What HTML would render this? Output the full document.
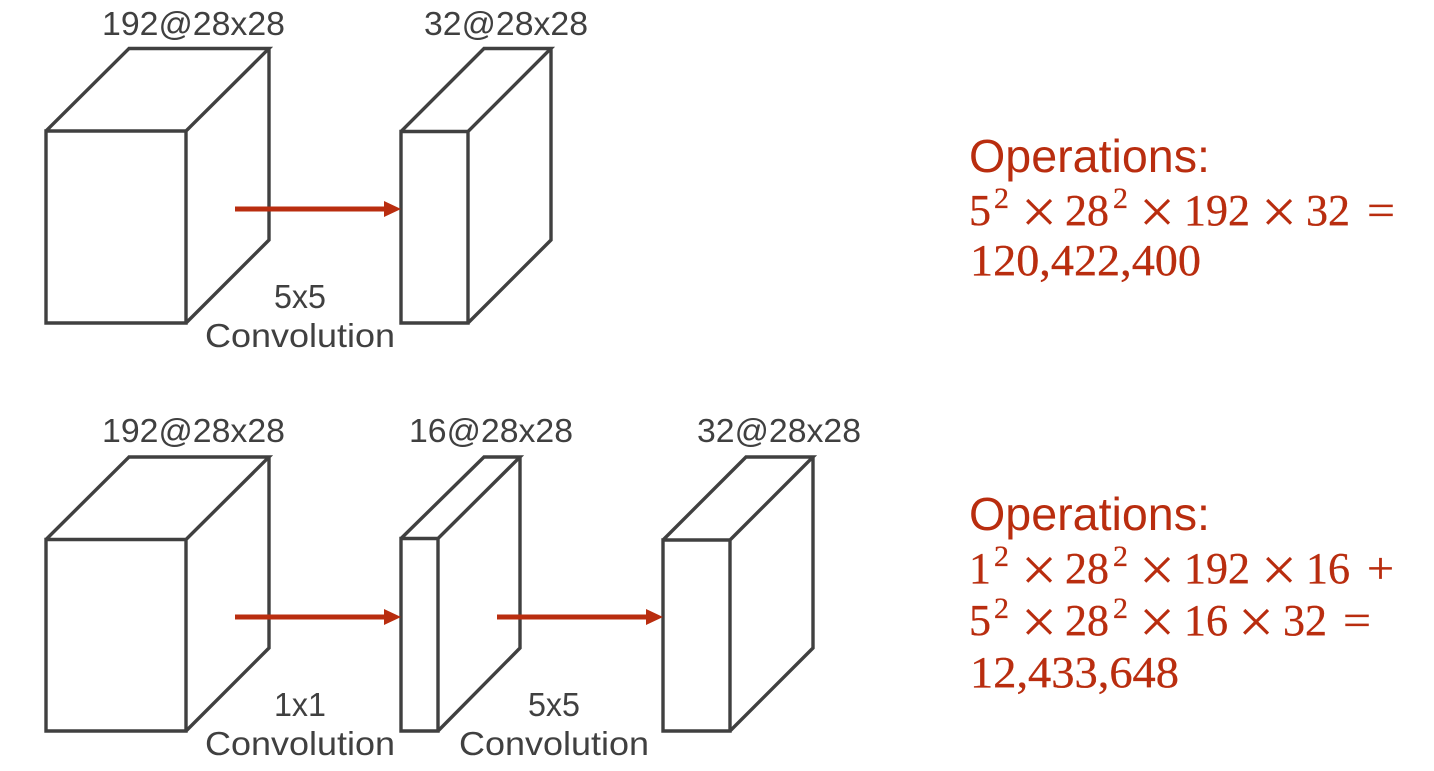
<!DOCTYPE html>
<html><head><meta charset="utf-8"><style>
html,body{margin:0;padding:0;background:#fff;width:1434px;height:771px;overflow:hidden}
svg{display:block}
.b{fill:none;stroke:#404040;stroke-width:3.4;stroke-linejoin:miter}
.l{font:33px "Liberation Sans",sans-serif;fill:#404040}
.o{font:46px "Liberation Sans",sans-serif;fill:#b92d0f}
.m{font:44px "Liberation Serif",serif;fill:#b92d0f;stroke:#b92d0f;stroke-width:.3}
.s{font:30px "Liberation Serif",serif;fill:#b92d0f;stroke:#b92d0f;stroke-width:.3}
.x{font:64px "Liberation Serif",serif;fill:#b92d0f}
.a{stroke:#b92d0f;stroke-width:5;fill:none}
.h{fill:#b92d0f}
</style></head><body>
<svg width="1434" height="771" viewBox="0 0 1434 771" xmlns="http://www.w3.org/2000/svg">
<!-- row 1 -->
<path class="b" d="M46 131H186V323H46ZM46 131L129 48.500H269L186 131M269 48.500V240L186 323"/>
<path class="b" d="M401 131.500H468V323H401ZM401 131.500L484 48.500H551L468 131.500M551 48.500V240L468 323"/>
<path class="a" d="M235 209H386"/><path class="h" d="M384 201L401 209L384 217Z"/>
<!-- row 2 -->
<path class="b" d="M46 539.500H186V731H46ZM46 539.500L129 457H269L186 539.500M269 457V648L186 731"/>
<path class="b" d="M401 538.500H438V731H401ZM401 538.500L484 457H520L438 538.500M520 457V648L438 731"/>
<path class="b" d="M663 540H730V731H663ZM663 540L746 457H813L730 540M813 457V648L730 731"/>
<path class="a" d="M235 617H386"/><path class="h" d="M384 609L401 617L384 625Z"/>
<path class="a" d="M497 617H648"/><path class="h" d="M646 609L663 617L646 625Z"/>
<!-- labels -->
<g class="l">
<text x="102" y="35" textLength="183" lengthAdjust="spacingAndGlyphs">192@28x28</text>
<text x="424" y="35" textLength="164" lengthAdjust="spacingAndGlyphs">32@28x28</text>
<text x="274" y="308" textLength="52" lengthAdjust="spacingAndGlyphs">5x5</text>
<text x="205" y="347" textLength="190" lengthAdjust="spacingAndGlyphs">Convolution</text>
<text x="102" y="442" textLength="183" lengthAdjust="spacingAndGlyphs">192@28x28</text>
<text x="409" y="442" textLength="164" lengthAdjust="spacingAndGlyphs">16@28x28</text>
<text x="697" y="442" textLength="164" lengthAdjust="spacingAndGlyphs">32@28x28</text>
<text x="274" y="716" textLength="52" lengthAdjust="spacingAndGlyphs">1x1</text>
<text x="205" y="755" textLength="190" lengthAdjust="spacingAndGlyphs">Convolution</text>
<text x="528" y="716" textLength="52" lengthAdjust="spacingAndGlyphs">5x5</text>
<text x="459" y="755" textLength="190" lengthAdjust="spacingAndGlyphs">Convolution</text>
</g>
<!-- math 1 -->
<text class="o" x="969" y="172" textLength="241" lengthAdjust="spacingAndGlyphs">Operations:</text>
<text class="m" x="969" y="225">5</text><text class="s" x="994" y="208">2</text>
<text class="x" x="1021" y="233">×</text>
<text class="m" x="1065" y="225">28</text><text class="s" x="1113" y="208">2</text>
<text class="x" x="1139" y="233">×</text>
<text class="m" x="1184" y="225">192</text>
<text class="x" x="1261" y="233">×</text>
<text class="m" x="1306" y="225">32</text>
<text class="m" x="1367" y="225" textLength="28" lengthAdjust="spacingAndGlyphs">=</text>
<text class="m" x="970" y="275" textLength="231" lengthAdjust="spacingAndGlyphs">120,422,400</text>
<!-- math 2 -->
<text class="o" x="969" y="530" textLength="241" lengthAdjust="spacingAndGlyphs">Operations:</text>
<text class="m" x="969" y="583">1</text><text class="s" x="994" y="566">2</text>
<text class="x" x="1021" y="591">×</text>
<text class="m" x="1065" y="583">28</text><text class="s" x="1113" y="566">2</text>
<text class="x" x="1139" y="591">×</text>
<text class="m" x="1184" y="583">192</text>
<text class="x" x="1261" y="591">×</text>
<text class="m" x="1306" y="583">16</text>
<text class="m" x="1367" y="583" textLength="27" lengthAdjust="spacingAndGlyphs">+</text>
<text class="m" x="969" y="635">5</text><text class="s" x="994" y="618">2</text>
<text class="x" x="1021" y="643">×</text>
<text class="m" x="1065" y="635">28</text><text class="s" x="1113" y="618">2</text>
<text class="x" x="1139" y="643">×</text>
<text class="m" x="1184" y="635">16</text>
<text class="x" x="1238" y="643">×</text>
<text class="m" x="1283" y="635">32</text>
<text class="m" x="1343" y="635" textLength="28" lengthAdjust="spacingAndGlyphs">=</text>
<text class="m" x="970" y="687" textLength="209" lengthAdjust="spacingAndGlyphs">12,433,648</text>
</svg>
</body></html>
